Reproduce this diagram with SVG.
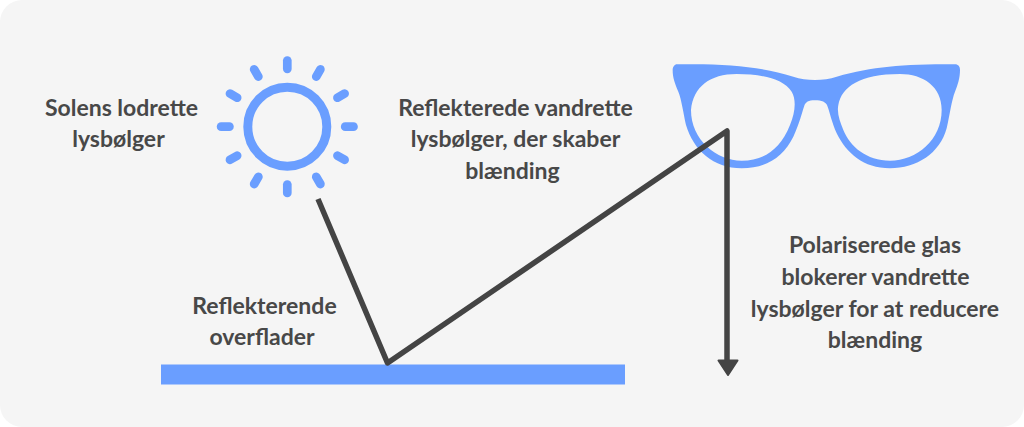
<svg xmlns="http://www.w3.org/2000/svg" width="1024" height="427" viewBox="0 0 1024 427">
<style>
.t{font-family:"Lato","Liberation Sans",sans-serif;font-weight:700;font-size:23px;fill:#484848;text-anchor:middle}
.ray{stroke:#6a9eff;stroke-width:8.7;stroke-linecap:round;fill:none}
.conn{stroke:#444;stroke-width:5.5;fill:none;stroke-linejoin:round}
</style>
<defs>
<line id="r" class="ray" x1="287.3" y1="60.5" x2="287.3" y2="68.8"/>
</defs>
<rect id="background" x="0" y="0" width="1024" height="427" rx="22" fill="#f5f5f5"/>
<g id="sun">
<circle cx="287.3" cy="126.7" r="39.5" fill="none" stroke="#6a9eff" stroke-width="9"/>
<use href="#r"/>
<use href="#r" transform="rotate(30 287.3 126.7)"/>
<use href="#r" transform="rotate(60 287.3 126.7)"/>
<use href="#r" transform="rotate(90 287.3 126.7)"/>
<use href="#r" transform="rotate(120 287.3 126.7)"/>
<use href="#r" transform="rotate(150 287.3 126.7)"/>
<use href="#r" transform="rotate(180 287.3 126.7)"/>
<use href="#r" transform="rotate(210 287.3 126.7)"/>
<use href="#r" transform="rotate(240 287.3 126.7)"/>
<use href="#r" transform="rotate(270 287.3 126.7)"/>
<use href="#r" transform="rotate(300 287.3 126.7)"/>
<use href="#r" transform="rotate(330 287.3 126.7)"/>
</g>
<g id="glasses">
<path transform="translate(660 50) scale(.33333)" fill="#6a9eff" fill-rule="evenodd" d="M50 43C200 40 300 50 400 80C440 93 490 93 530 80C640 50 720 43 885 43C895 43 900 50 900 60C900 85 893 105 885 125C875 150 870 190 860 235C840 310 770 355 690 355C610 355 560 310 530 250C515 215 510 190 503 170C498 155 485 151 465 151C445 151 437 155 432 170C425 190 420 215 400 260C370 320 320 355 245 355C160 355 100 300 78 225C70 190 65 150 55 125C45 100 38 85 38 60C38 50 45 43 50 43ZM93 180C93 270 170 332 245 332C310 332 360 300 390 225C405 190 410 150 395 125C370 85 300 72 230 72C150 72 100 110 93 180ZM535 165C530 190 540 215 550 240C570 290 620 332 690 332C770 332 845 270 845 180C845 110 790 72 720 72C600 72 545 110 535 165Z"/>
</g>
<g id="surface">
<rect x="161" y="364.5" width="464" height="20" fill="#6a9eff"/>
</g>
<g id="connectors">
<path class="conn" d="M318 199L387.5 363L727 131V362"/>
<polygon points="718.5,360.5 737.5,360.5 728,375" fill="#444" stroke="#444" stroke-width="2" stroke-linejoin="round"/>
</g>
<g id="label-sun">
<text class="t" x="121.5" y="115.7">Solens lodrette</text>
<text class="t" x="118.5" y="147.4">lysbølger</text>
</g>
<g id="label-reflected">
<text class="t" x="515.5" y="115.7">Reflekterede vandrette</text>
<text class="t" x="515.5" y="147.4">lysbølger, der skaber</text>
<text class="t" x="512.5" y="179">blænding</text>
</g>
<g id="label-surface">
<text class="t" x="264.5" y="313.7">Reflekterende</text>
<text class="t" x="262" y="345.4">overflader</text>
</g>
<g id="label-polarized">
<text class="t" x="875" y="253.3">Polariserede glas</text>
<text class="t" x="875.5" y="285">blokerer vandrette</text>
<text class="t" x="875" y="316.7">lysbølger for at reducere</text>
<text class="t" x="875" y="348.3">blænding</text>
</g>
</svg>
